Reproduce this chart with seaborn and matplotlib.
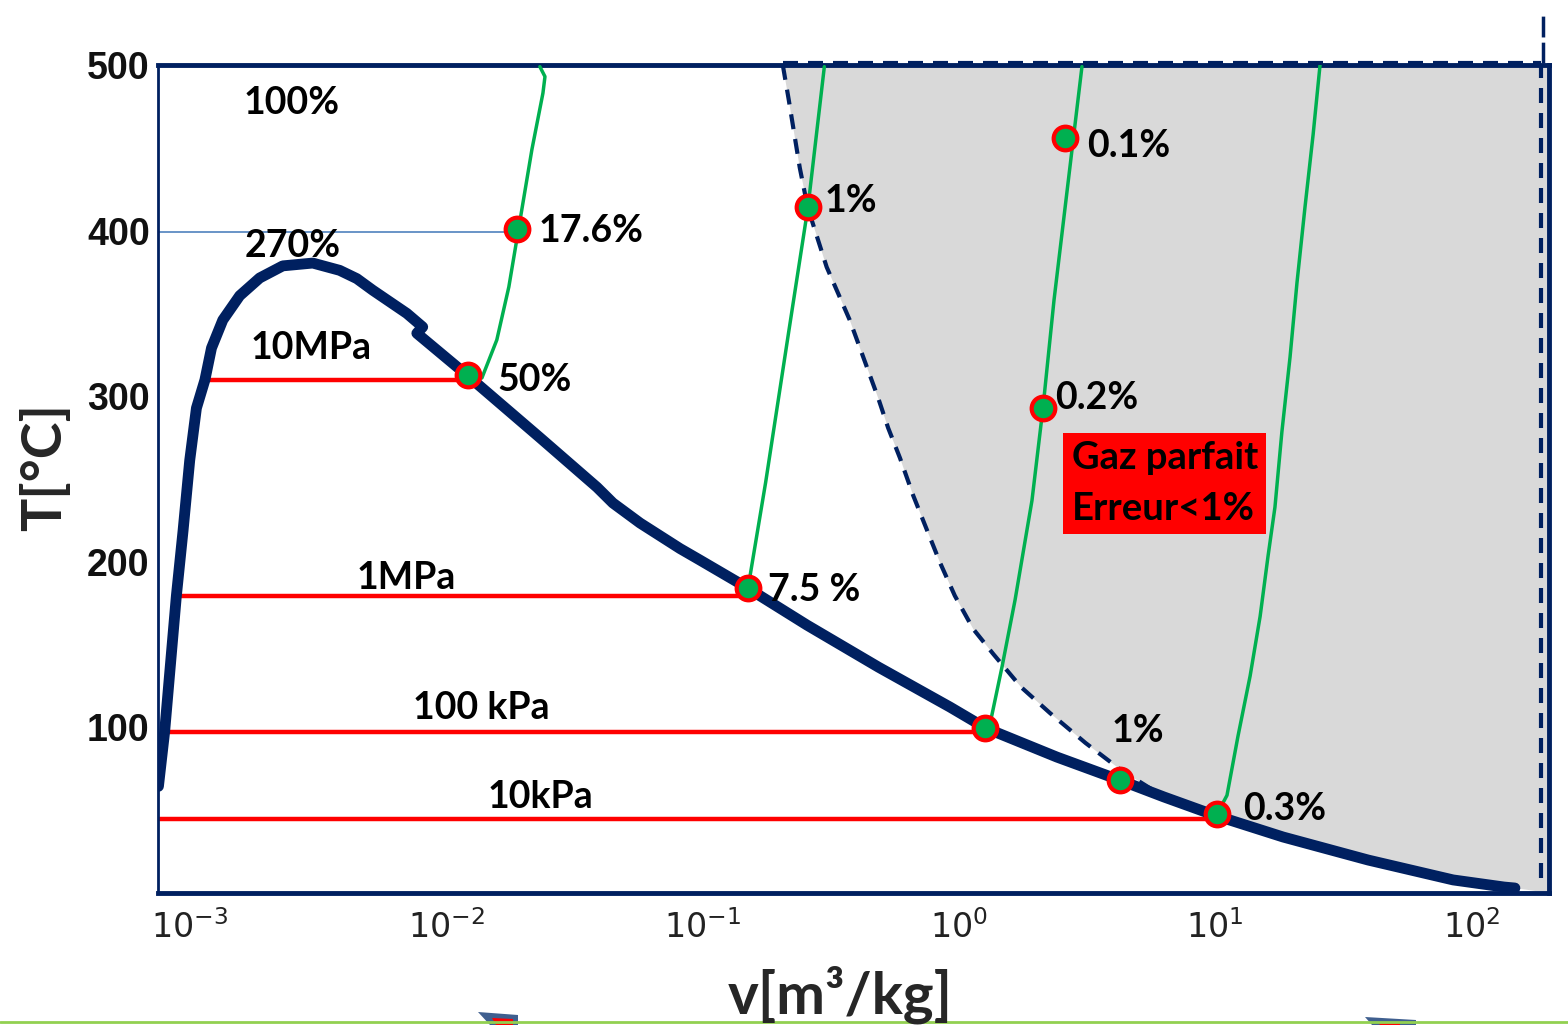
import matplotlib
matplotlib.use("Agg")
import matplotlib.pyplot as plt
import numpy as np
import pandas as pd
import seaborn as sns
from matplotlib.lines import Line2D
from matplotlib.patches import Polygon

# saturation dome of water (v in m3/kg, T in degC)
dome_v = [7.55e-4, 7.98e-4, 8.87e-4, 9.42e-4, 1.0e-3, 1.062e-3, 1.146e-3, 1.216e-3,
          1.346e-3, 1.567e-3, 1.875e-3, 2.307e-3, 3.02e-3, 3.846e-3, 4.487e-3,
          5.176e-3, 7.031e-3, 8.11e-3, 7.691e-3, 0.01271, 0.02323, 0.03882, 0.04477,
          0.05715, 0.0818, 0.0977, 0.1479, 0.2559, 0.4864, 0.9247, 1.274, 2.415,
          4.246, 6.32, 9.91, 18.45, 39.6, 84.9, 134.3, 148.0]
dome_T = [64.4, 97.2, 179.5, 218.9, 261.3, 292.8, 309.8, 329.1,
          346, 360.7, 371.4, 378.7, 380.4, 376, 371,
          364, 350, 341.8, 338, 309.8, 275, 245, 235.5,
          223.4, 208, 201.1, 184.8, 161.8, 136.4, 112.3, 99.6, 82.1,
          68.2, 58, 47.1, 33.8, 19.9, 7.9, 3.6, 3.0]

# isobars (horizontal lines in the two-phase region)
isobar_names = ["10MPa", "1MPa", "100 kPa", "10kPa"]
isobar_T = [309.8, 179.3, 97.2, 44.7]
isobar_vmin = [1.16e-3, 8.9e-4, 8.0e-4, 7.55e-4]
isobar_vmax = [0.0122, 0.1507, 1.27, 10.0]

# isotherm reference at 400 degC
ref_T = 399
ref_vmax = 0.0189

# compressibility error curves
green_a_v = [0.0122, 0.0138, 0.01578, 0.01758, 0.01914, 0.02163, 0.02388, 0.02432, 0.02323]
green_a_T = [312.8, 311, 334, 366, 400, 449, 483, 493, 499]
green_b_v = [0.1503, 0.1766, 0.2168, 0.2582, 0.2992]
green_b_T = [183, 248, 338, 414, 499]
green_c_v = [1.266, 1.343, 1.476, 1.660, 1.932, 2.133, 2.355, 3.027]
green_c_T = [98.4, 106.3, 136.5, 177, 237, 293, 358, 499]
green_d_v = [10.19, 11.14, 12.3, 13.71, 15.0, 16.11, 17.14, 18.24, 19.63, 20.89,
             22.44, 24.15, 25.7]
green_d_T = [47.7, 59, 94.8, 131, 167, 203.5, 233, 278.4, 323.7, 368.5,
             413.9, 458, 500]

# ideal gas zone boundary (error < 1%)
ideal_v = [0.206, 0.2173, 0.2399, 0.2576, 0.3055, 0.3758, 0.4853, 0.5309, 0.5902,
           0.6653, 0.7499, 0.8453, 0.9661, 1.140, 1.365, 1.750, 2.270, 3.126, 4.295, 6.32]
ideal_T = [500, 479, 438, 414, 378, 346, 298.9, 280.8, 262.7,
           239.9, 219.7, 199.6, 179.5, 159.4, 144.3, 124.4, 108.7, 90.6, 74.3, 58]

# marked points
point_v = [0.0122, 0.0189, 0.1507, 0.258, 2.60, 2.133, 1.27, 4.27, 10.19]
point_T = [313, 401, 184, 414, 456, 293, 99.6, 68, 47.7]

# labels: text, v, T
labels = [("100%", 1.62e-3, 477), ("270%", 1.64e-3, 391), ("17.6%", 0.0229, 400),
          ("10MPa", 1.72e-3, 329), ("50%", 0.0159, 310), ("1MPa", 4.47e-3, 190),
          ("7.5 %", 0.180, 183), ("100 kPa", 7.4e-3, 112), ("10kPa", 0.0145, 58),
          ("1%", 0.301, 418), ("0.1%", 3.16, 451), ("0.2%", 2.38, 299),
          ("1%", 3.96, 98), ("0.3%", 12.9, 51)]

xticks = [1e-3, 1e-2, 1e-1, 1e0, 1e1, 1e2]
xtick_labels = ["$10^{-3}$", "$10^{-2}$", "$10^{-1}$", "$10^{0}$", "$10^{1}$", "$10^{2}$"]
yticks = [100, 200, 300, 400, 500]

NAVY = "#002060"
GREEN = "#00b050"
RED = "#ff0000"
GRAY = "#d9d9d9"

sns.set_theme(style="white")
plt.rcParams['font.family'] = ['Lato', 'DejaVu Sans']
plt.rcParams['mathtext.fontset'] = 'dejavusans'

fig = plt.figure(figsize=(15.68, 10.25), dpi=100)
ax = fig.add_axes([158 / 1568, 132 / 1025, 1391 / 1568, 828 / 1025])
ax.set_xscale("log")
xmin, xmax = 7.52e-4, 201.0
ax.set_xlim(xmin, xmax)
ax.set_ylim(0, 500)

# gray ideal-gas region
dome_df = pd.DataFrame({"v": dome_v, "T": dome_T})
tail = dome_df[dome_df["v"] > ideal_v[-1]]
poly_v = ideal_v + list(tail["v"]) + [xmax, xmax]
poly_T = ideal_T + list(tail["T"]) + [0, 500]
ax.fill(poly_v, poly_T, color=GRAY, lw=0, zorder=1)

# dashed boundary
dash = (3.6, 2.4)
ax.plot(ideal_v, ideal_T, color=NAVY, lw=3, dashes=dash, zorder=3)
ax.plot([ideal_v[0], 187], [501.5, 501.5], color=NAVY, lw=3, dashes=dash, zorder=3, clip_on=False)
ax.plot([187, 187], [501.5, 5], color=NAVY, lw=3, dashes=dash, zorder=3)
ax.plot([190, 190], [501.5, 532], color=NAVY, lw=2.5, dashes=(6, 1.5), zorder=3, clip_on=False)

# reference 400 degC line
ax.plot([xmin, ref_vmax], [ref_T, ref_T], color="#4f81bd", lw=1.2, zorder=2)

# isobars
for T, v0, v1 in zip(isobar_T, isobar_vmin, isobar_vmax):
    ax.plot([v0, v1], [T, T], color=RED, lw=3.2, zorder=2, solid_capstyle="butt")

# green curves
for gv, gT in [(green_a_v, green_a_T), (green_b_v, green_b_T),
               (green_c_v, green_c_T), (green_d_v, green_d_T)]:
    sns.lineplot(x=gv, y=gT, sort=False, estimator=None, color=GREEN, lw=2.5, ax=ax, zorder=4)

# saturation dome
sns.lineplot(data=dome_df, x="v", y="T", sort=False, estimator=None, color=NAVY,
             lw=7.8, ax=ax, zorder=5, solid_joinstyle="round", solid_capstyle="round")

# points
sns.scatterplot(x=point_v, y=point_T, s=290, color=GREEN, edgecolor=RED, linewidth=3,
                ax=ax, zorder=6)

for txt, v, T in labels:
    ax.text(v, T, txt, fontsize=27, fontweight="bold", color="black", va="center",
            ha="left", zorder=7)

ax.text(2.76, 273, "Gaz parfait\nErreur<1%", fontsize=27.5, fontweight="bold", color="black",
        va="top", ha="left", linespacing=1.6, zorder=7,
        bbox=dict(facecolor=RED, edgecolor="none", pad=6))

ax.set_xticks(xticks)
ax.set_xticklabels(xtick_labels, fontsize=24, color="#222222")
ax.minorticks_off()
ax.set_yticks(yticks)
ax.set_yticklabels([str(t) for t in yticks], fontsize=27, fontweight="bold",
                   family="Liberation Sans", color="#111111")
ax.tick_params(axis="both", length=0)
ax.tick_params(axis="x", pad=12)
ax.tick_params(axis="y", pad=6)
ax.set_xlabel("")
ax.set_ylabel("")

for side, w in [("top", 3.5), ("bottom", 3.5), ("left", 2), ("right", 3.5)]:
    ax.spines[side].set_color(NAVY)
    ax.spines[side].set_linewidth(w)

fig.text(45 / 1568, 1 - 467 / 1025, "T[°C]", fontsize=40, fontweight="bold",
         rotation=90, ha="center", va="center")
fig.text(840 / 1568, 1 - 995 / 1025, "v[m³/kg]", fontsize=42, fontweight="bold",
         ha="center", va="center")

# slide decorations at the bottom edge
fig.add_artist(Line2D([0, 1], [0.0025, 0.0025], color="#92d050", lw=2))
W, H = 1568, 1025
for outer, inner in [([(478, 1012), (518, 1015), (518, 1025), (490, 1025)],
                      [(492, 1018), (513, 1019), (513, 1025), (496, 1025)]),
                     ([(1365, 1017), (1416, 1020), (1416, 1025), (1372, 1025)],
                      [(1378, 1022), (1400, 1023), (1400, 1025), (1380, 1025)])]:
    fig.add_artist(Polygon([(x / W, 1 - y / H) for x, y in outer], closed=True,
                           facecolor="#3f5f8f", edgecolor="none", transform=fig.transFigure))
    fig.add_artist(Polygon([(x / W, 1 - y / H) for x, y in inner], closed=True,
                           facecolor=RED, edgecolor="none", transform=fig.transFigure))

fig.savefig("out.png", dpi=100)
